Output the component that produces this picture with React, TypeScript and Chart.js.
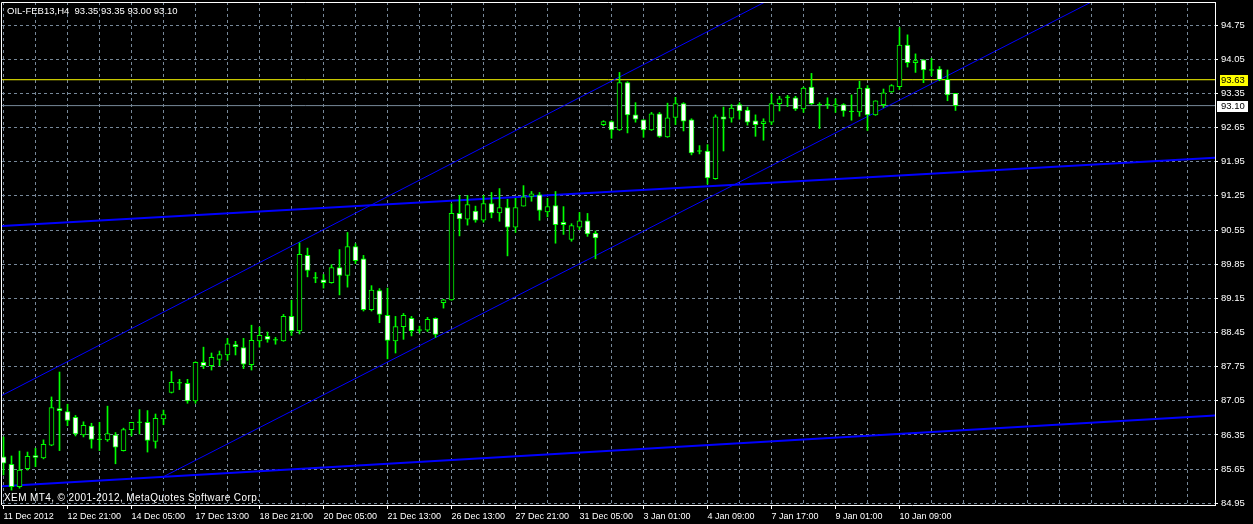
import React, { useEffect, useRef } from 'react';
import { Chart, registerables } from 'chart.js';

Chart.register(...registerables);

// ---- DATA (H4 bars, OIL-FEB13) ----
const opens = [
  85.90, 85.75, 85.29, 85.66, 85.93, 85.88, 86.14, 86.89, 86.83, 86.71,
  86.35, 86.53, 86.26, 86.25, 86.35, 86.03, 86.46, 86.61, 86.61, 86.22,
  86.68, 87.22, 87.42, 87.41, 87.05, 87.84, 87.77, 87.90, 87.99, 88.20,
  88.14, 87.79, 88.28, 88.37, 88.30, 88.28, 88.78, 88.48, 90.03, 89.57,
  89.53, 89.47, 89.78, 89.62, 90.21, 89.96, 88.92, 89.31, 88.80, 88.28,
  88.57, 88.74, 88.50, 88.50, 88.74, 89.06, 89.12, 90.89, 90.77, 90.94,
  90.75, 91.09, 90.90, 91.01, 90.61, 91.04, 91.24, 91.27, 90.92, 91.05,
  90.71, 90.36, 90.61, 90.74, 90.48, 92.71, 92.77, 92.60, 93.57, 92.91,
  92.81, 92.60, 92.93, 92.46, 92.86, 93.14, 92.81, 92.17, 92.17, 91.60,
  92.87, 92.84, 93.12, 93.01, 92.79, 92.73, 92.76, 93.14, 93.27, 93.26,
  93.03, 93.48, 93.12, 93.12, 93.09, 93.12, 92.98, 92.97, 93.46, 92.91,
  93.12, 93.38, 93.49, 94.34, 93.98, 94.04, 93.83, 93.85, 93.64, 93.35,
];
const highs = [
  86.31, 85.92, 86.02, 86.00, 86.08, 86.25, 87.13, 87.64, 86.98, 86.75,
  86.62, 86.59, 86.61, 86.94, 86.40, 86.49, 86.61, 86.87, 86.85, 86.78,
  86.86, 87.65, 87.49, 87.49, 87.85, 88.15, 88.03, 88.07, 88.33, 88.27,
  88.33, 88.60, 88.56, 88.46, 88.35, 88.82, 89.11, 90.29, 90.18, 89.68,
  89.64, 89.84, 90.15, 90.50, 90.27, 90.03, 89.41, 89.35, 89.36, 88.78,
  88.84, 88.78, 88.58, 88.76, 88.75, 89.13, 91.09, 91.26, 91.26, 91.04,
  91.26, 91.32, 91.40, 91.18, 91.20, 91.46, 91.34, 91.32, 91.20, 91.34,
  91.03, 90.68, 90.91, 90.89, 90.53, 92.79, 92.79, 93.78, 93.59, 93.16,
  92.81, 92.96, 92.96, 93.15, 93.27, 93.16, 92.83, 92.28, 92.30, 92.91,
  93.07, 93.12, 93.16, 93.07, 92.91, 92.83, 93.34, 93.29, 93.31, 93.29,
  93.48, 93.76, 93.16, 93.26, 93.24, 93.14, 93.32, 93.60, 93.51, 93.20,
  93.44, 93.53, 94.70, 94.55, 94.16, 94.04, 94.07, 93.90, 93.83, 93.35,
];
const lows = [
  85.53, 85.22, 85.26, 85.63, 85.70, 85.86, 86.13, 86.03, 86.54, 86.33,
  86.31, 86.08, 86.03, 86.22, 85.76, 86.02, 86.33, 86.37, 86.00, 86.08,
  86.56, 87.21, 87.28, 87.00, 87.00, 87.71, 87.68, 87.77, 87.88, 87.99,
  87.71, 87.68, 88.15, 88.25, 88.21, 88.27, 88.39, 88.42, 89.59, 89.47,
  89.36, 89.46, 89.22, 89.38, 89.86, 88.89, 88.89, 88.65, 87.91, 88.03,
  88.31, 88.38, 88.44, 88.47, 88.35, 88.95, 89.11, 90.43, 90.65, 90.71,
  90.71, 90.80, 90.73, 90.02, 90.50, 91.04, 91.14, 90.75, 90.82, 90.28,
  90.46, 90.32, 90.56, 90.42, 89.96, 92.69, 92.43, 92.59, 92.54, 92.76,
  92.45, 92.59, 92.45, 92.45, 92.71, 92.58, 92.09, 92.11, 91.49, 91.59,
  92.17, 92.76, 92.82, 92.70, 92.47, 92.39, 92.71, 92.99, 93.08, 93.00,
  92.96, 93.12, 92.63, 93.04, 92.96, 92.88, 92.80, 92.88, 92.59, 92.90,
  93.06, 93.37, 93.43, 93.89, 93.78, 93.57, 93.71, 93.61, 93.20, 93.00,
];
const closes = [
  85.77, 85.29, 85.63, 85.91, 85.89, 86.16, 86.91, 86.85, 86.65, 86.37,
  86.55, 86.26, 86.26, 86.38, 86.10, 86.46, 86.61, 86.61, 86.24, 86.69,
  86.77, 87.43, 87.42, 87.05, 87.84, 87.77, 87.94, 88.00, 88.22, 88.16,
  87.80, 88.29, 88.39, 88.31, 88.30, 88.78, 88.48, 90.05, 89.72, 89.57,
  89.47, 89.78, 89.62, 90.21, 89.92, 88.92, 89.32, 88.82, 88.29, 88.57,
  88.80, 88.49, 88.50, 88.72, 88.41, 89.12, 90.89, 90.78, 91.07, 90.75,
  91.09, 90.90, 91.01, 90.61, 91.01, 91.23, 91.29, 90.95, 91.03, 90.66,
  90.66, 90.64, 90.74, 90.47, 90.39, 92.77, 92.60, 93.57, 92.91, 92.82,
  92.60, 92.93, 92.47, 92.85, 93.14, 92.78, 92.13, 92.17, 91.62, 92.87,
  92.82, 93.05, 92.99, 92.76, 92.71, 92.77, 93.14, 93.24, 93.27, 93.03,
  93.46, 93.14, 93.12, 93.12, 93.12, 92.99, 92.98, 93.46, 92.91, 93.20,
  93.36, 93.51, 94.34, 93.98, 94.02, 93.83, 93.83, 93.63, 93.32, 93.10,
];

// time labels, one every 8 bars starting at bar 0
const timeLabels = [
  '11 Dec 2012', '12 Dec 21:00', '14 Dec 05:00', '17 Dec 13:00', '18 Dec 21:00',
  '20 Dec 05:00', '21 Dec 13:00', '26 Dec 13:00', '27 Dec 21:00', '31 Dec 05:00',
  '3 Jan 01:00', '4 Jan 09:00', '7 Jan 17:00', '9 Jan 01:00', '10 Jan 09:00',
];
const priceTicks = [
  84.95, 85.65, 86.35, 87.05, 87.75, 88.45, 89.15, 89.85, 90.55, 91.25,
  91.95, 92.65, 93.35, 94.05, 94.75,
];

const symbolTitle = 'OIL-FEB13,H4  93.35 93.35 93.00 93.10';
const copyrightText = 'XEM MT4, © 2001-2012, MetaQuotes Software Corp.';
const levelPrice = 93.63;
const bidPrice = 93.10;

// trend lines (bar index, price)
const upperChannel = [{ x: -0.2, y: 87.16 }, { x: 100, y: 95.63 }];
const lowerChannel = [{ x: 19.94, y: 85.49 }, { x: 140, y: 95.56 }];
const upperFlat = [{ x: -0.2, y: 90.63 }, { x: 151.5, y: 92.03 }];
const lowerFlat = [{ x: -0.2, y: 85.30 }, { x: 151.5, y: 86.75 }];

const FONT = '"Liberation Sans", Arial, sans-serif';
const LIME = '#00ff00';
const GRID = '#778899';

export default function App() {
  const ref = useRef<HTMLCanvasElement | null>(null);

  useEffect(() => {
    const canvas = ref.current;
    if (!canvas) return;

    const bodies = opens.map((o, i) =>
      o === closes[i] ? { x: i, y: null } : { x: i, y: [o, closes[i]] }
    );
    const bodyColors = opens.map((o, i) => (closes[i] < o ? '#ffffff' : '#000000'));
    const wicks = opens.map((_, i) => ({ x: i, y: [lows[i], highs[i]] }));
    const dojis = opens
      .map((o, i) => ({ x: i, y: closes[i], d: o === closes[i] }))
      .filter((p) => p.d)
      .map((p) => ({ x: p.x, y: p.y }));
    const lastX = 151.5;

    const mtPlugin = {
      id: 'mt4',
      beforeDraw(chart: any) {
        const { ctx, width, height } = chart;
        ctx.save();
        ctx.fillStyle = '#000';
        ctx.fillRect(0, 0, width, height);
        ctx.restore();
      },
      afterDraw(chart: any) {
        const { ctx, chartArea: a, scales } = chart;
        ctx.save();
        ctx.strokeStyle = '#ffffff';
        ctx.lineWidth = 1;
        ctx.beginPath();
        ctx.moveTo(a.left - 0.5, a.bottom);
        ctx.lineTo(a.left - 0.5, a.top + 0.5);
        ctx.lineTo(a.right + 1, a.top + 0.5);
        ctx.stroke();

        ctx.fillStyle = '#ffffff';
        ctx.textBaseline = 'middle';
        ctx.textAlign = 'left';
        ctx.font = '9.5px ' + FONT;
        ctx.fillText(symbolTitle, 7, 11);
        ctx.font = '10px ' + FONT;
        try { (ctx as any).letterSpacing = '0.4px'; } catch (e) { /* ignore */ }
        ctx.fillText(copyrightText, 4, 498);
        try { (ctx as any).letterSpacing = '0px'; } catch (e) { /* ignore */ }

        ctx.font = '9.5px ' + FONT;
        const yl = Math.round(scales.y.getPixelForValue(levelPrice));
        ctx.fillStyle = '#ffff00';
        ctx.fillRect(a.right + 5, yl - 5, 28, 11);
        ctx.fillStyle = '#000000';
        ctx.fillText(levelPrice.toFixed(2), a.right + 6, yl + 0.5);

        const yb = Math.round(scales.y.getPixelForValue(bidPrice));
        ctx.fillStyle = '#ffffff';
        ctx.fillRect(a.right + 2, yb - 5, 31, 11);
        ctx.fillStyle = '#000000';
        ctx.fillText(bidPrice.toFixed(2), a.right + 6, yb + 0.5);
        ctx.restore();
      },
    };

    const chart = new Chart(canvas, {
      type: 'bar',
      data: {
        datasets: [
          {
            type: 'bar',
            label: 'body',
            data: bodies as any,
            backgroundColor: bodyColors,
            borderColor: LIME,
            borderWidth: 1,
            borderSkipped: false,
            barThickness: 5,
            grouped: false,
            order: 1,
            clip: 0,
          } as any,
          {
            type: 'scatter',
            label: 'doji',
            data: dojis,
            pointStyle: 'line',
            pointRadius: 2.5,
            borderColor: LIME,
            borderWidth: 1,
            showLine: false,
            order: 1,
            clip: 0,
          } as any,
          {
            type: 'bar',
            label: 'wick',
            data: wicks as any,
            backgroundColor: LIME,
            borderWidth: 0,
            barThickness: 1,
            grouped: false,
            order: 2,
            clip: 0,
          } as any,
          {
            type: 'line',
            label: 'upperChannel',
            data: upperChannel,
            borderColor: '#0000ff',
            borderWidth: 1,
            pointRadius: 0,
            fill: false,
            order: 3,
            clip: 0,
          } as any,
          {
            type: 'line',
            label: 'lowerChannel',
            data: lowerChannel,
            borderColor: '#0000ff',
            borderWidth: 1,
            pointRadius: 0,
            fill: false,
            order: 3,
            clip: 0,
          } as any,
          {
            type: 'line',
            label: 'upperFlat',
            data: upperFlat,
            borderColor: '#0000ff',
            borderWidth: 2,
            pointRadius: 0,
            fill: false,
            order: 3,
            clip: 0,
          } as any,
          {
            type: 'line',
            label: 'lowerFlat',
            data: lowerFlat,
            borderColor: '#0000ff',
            borderWidth: 2,
            pointRadius: 0,
            fill: false,
            order: 3,
            clip: 0,
          } as any,
          {
            type: 'line',
            label: 'level',
            data: [{ x: -0.2, y: levelPrice }, { x: lastX, y: levelPrice }],
            borderColor: '#ffff00',
            borderWidth: 1,
            pointRadius: 0,
            fill: false,
            order: 4,
            clip: 0,
          } as any,
          {
            type: 'line',
            label: 'bid',
            data: [{ x: -0.2, y: bidPrice }, { x: lastX, y: bidPrice }],
            borderColor: GRID,
            borderWidth: 1,
            pointRadius: 0,
            fill: false,
            order: 4,
            clip: 0,
          } as any,
        ],
      },
      options: {
        responsive: false,
        animation: false,
        events: [],
        devicePixelRatio: 1,
        layout: { autoPadding: false, padding: { left: 2, top: 2, right: 0, bottom: 0 } },
        plugins: {
          legend: { display: false },
          tooltip: { enabled: false },
          title: { display: false },
        },
        scales: {
          x: {
            type: 'linear',
            min: -0.1875,
            max: 151.4375,
            bounds: 'data',
            offset: false,
            afterBuildTicks: (s: any) => {
              const t = [];
              for (let v = 0; v <= 148; v += 4) t.push({ value: v });
              s.ticks = t;
            },
            afterFit: (s: any) => {
              s.height = 19;
              s.paddingLeft = 0;
              s.paddingRight = 0;
              s.paddingTop = 0;
              s.paddingBottom = 0;
            },
            grid: {
              offset: false,
              color: GRID,
              lineWidth: 1,
              drawTicks: true,
              tickLength: 4,
              tickColor: (c: any) => {
                const v = c.tick ? c.tick.value : -1;
                return v % 8 === 0 && v / 8 < timeLabels.length ? '#ffffff' : 'rgba(0,0,0,0)';
              },
            },
            border: { display: true, color: '#ffffff', width: 1, dash: [3, 3] },
            ticks: {
              autoSkip: false,
              maxRotation: 0,
              minRotation: 0,
              align: 'start',
              padding: 2,
              color: '#ffffff',
              font: { family: FONT, size: 9 },
              callback: (value: any) => {
                const v = Number(value);
                if (v % 8 === 0) return timeLabels[v / 8] ?? '';
                return '';
              },
            },
          },
          y: {
            type: 'linear',
            position: 'right',
            min: 84.915,
            max: 95.223,
            bounds: 'data',
            afterBuildTicks: (s: any) => {
              s.ticks = priceTicks.map((v) => ({ value: v }));
            },
            afterFit: (s: any) => {
              s.width = 38;
              s.paddingLeft = 0;
              s.paddingRight = 0;
              s.paddingTop = 0;
              s.paddingBottom = 0;
            },
            grid: {
              color: GRID,
              lineWidth: 1,
              drawTicks: true,
              tickLength: 3,
              tickColor: '#ffffff',
            },
            border: { display: true, color: '#ffffff', width: 1, dash: [3, 3] },
            ticks: {
              padding: 3,
              color: '#ffffff',
              font: { family: FONT, size: 9.5 },
              callback: (value: any) => Number(value).toFixed(2),
            },
          },
        },
      } as any,
      plugins: [mtPlugin],
    });

    return () => chart.destroy();
  }, []);

  return (
    <div
      style={{
        position: 'fixed',
        left: 0,
        top: 0,
        width: 1253,
        height: 524,
        background: '#000',
        overflow: 'hidden',
      }}
    >
      <canvas ref={ref} width={1253} height={524} style={{ width: 1253, height: 524, display: 'block' }} />
    </div>
  );
}
